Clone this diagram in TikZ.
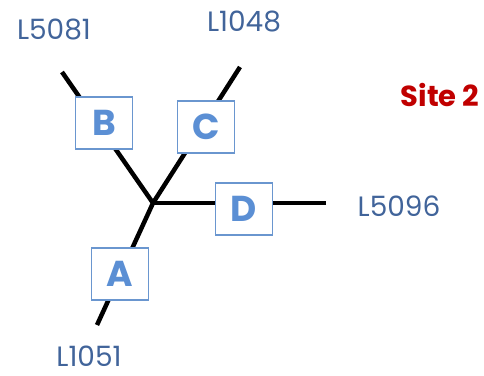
\documentclass[tikz,border=0pt]{standalone}
\usepackage{fontspec}
\setmainfont{Poppins}
\usetikzlibrary{positioning}

\definecolor{labelblue}{HTML}{41649A}
\definecolor{boxblue}{HTML}{6A96CF}
\definecolor{letterblue}{HTML}{5B8FD4}
\definecolor{sitered}{HTML}{C00000}

\begin{document}
\begin{tikzpicture}[x=1pt,y=-1pt,
                    every node/.style={font=\fontsize{28}{30}\selectfont,text=labelblue,inner sep=0pt},
                    branch/.style={line width=4.5pt,black},
                    sitebox/.style={draw=boxblue,line width=1.3pt,fill=white,
                                    minimum width=57pt,minimum height=52pt,
                                    text=letterblue,font=\fontsize{36}{38}\selectfont\bfseries}]

\useasboundingbox (0,0) rectangle (484,375);

\coordinate (ctr) at (153,203);
\coordinate (eB) at (62,72);
\coordinate (eC) at (240,67);
\coordinate (eD) at (326,203);
\coordinate (eA) at (97,325);

\draw[branch] (eB) -- (ctr);
\draw[branch] (eC) -- (ctr);
\draw[branch] (eD) -- (ctr);
\draw[branch] (eA) -- (ctr);

\node[sitebox] (b) at (104,123) {B};
\node[sitebox] (c) at (206,127) {C};
\node[sitebox] (d) at (244,209) {D};
\node[sitebox] (a) at (120,274) {A};

\node (l5081) at (54,30) {L5081};
\node (l1048) at (244,22) {L1048};
\node (l5096) at (399,206) {L5096};
\node[anchor=base,text depth=0pt] (l1051) at (89,366) {L1051};
\node[text=sitered,font=\fontsize{29}{31}\selectfont\bfseries] (site) at (440,95) {Site 2};

\end{tikzpicture}
\end{document}
